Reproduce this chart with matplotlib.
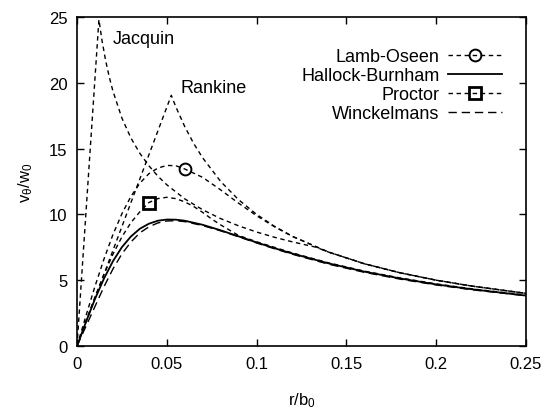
import matplotlib
matplotlib.use("Agg")
import matplotlib.pyplot as plt

plt.rcParams['font.family'] = ['Liberation Sans', 'DejaVu Sans']
plt.rcParams['mathtext.fontset'] = 'custom'
plt.rcParams['mathtext.rm'] = 'Liberation Sans'
plt.rcParams['mathtext.it'] = 'Liberation Sans'

# ---- data ----
r_lo = [0, 0.005, 0.01, 0.015, 0.02, 0.025, 0.03, 0.035, 0.04, 0.045, 0.05, 0.055,
        0.06, 0.07, 0.08, 0.09, 0.10, 0.11, 0.12, 0.14, 0.16, 0.18, 0.20, 0.22, 0.25]
v_lo = [0, 2.30, 4.53, 6.60, 8.46, 10.05, 11.36, 12.37, 13.09, 13.52, 13.72, 13.70,
        13.45, 12.81, 11.86, 10.85, 9.90, 9.06, 8.32, 7.14, 6.25, 5.56, 5.00, 4.55, 4.00]

r_hb = [0, 0.005, 0.01, 0.015, 0.02, 0.025, 0.03, 0.035, 0.04, 0.045, 0.05, 0.055,
        0.06, 0.07, 0.08, 0.09, 0.10, 0.11, 0.12, 0.14, 0.16, 0.18, 0.20, 0.22, 0.25]
v_hb = [0, 1.83, 3.57, 5.12, 6.44, 7.51, 8.32, 8.91, 9.29, 9.52, 9.61, 9.60,
        9.52, 9.21, 8.79, 8.33, 7.87, 7.43, 7.02, 6.28, 5.65, 5.13, 4.68, 4.31, 3.83]

r_pr = [0, 0.005, 0.01, 0.015, 0.02, 0.025, 0.03, 0.035, 0.04, 0.045, 0.05, 0.055,
        0.06, 0.065, 0.07, 0.075, 0.08, 0.09, 0.10, 0.12, 0.14, 0.16, 0.18, 0.20, 0.22, 0.25]
v_pr = [0, 1.90, 3.73, 5.44, 6.97, 8.29, 9.37, 10.20, 10.90, 11.20, 11.30, 11.20,
        10.95, 10.60, 10.15, 9.65, 9.20, 8.40, 7.92, 7.07, 6.32, 5.69, 5.17, 4.72, 4.34, 3.87]

r_wi = [0, 0.005, 0.01, 0.015, 0.02, 0.025, 0.03, 0.035, 0.04, 0.045, 0.05, 0.055,
        0.06, 0.07, 0.08, 0.09, 0.10, 0.11, 0.12, 0.14, 0.16, 0.18, 0.20, 0.22, 0.25]
v_wi = [0, 1.50, 3.00, 4.50, 5.85, 7.00, 7.90, 8.60, 9.05, 9.35, 9.50, 9.52,
        9.45, 9.15, 8.75, 8.30, 7.83, 7.39, 6.97, 6.22, 5.60, 5.08, 4.64, 4.27, 3.82]

r_ra = [0, 0.0525, 0.055, 0.06, 0.065, 0.07, 0.08, 0.09, 0.10, 0.11, 0.12, 0.14,
        0.16, 0.18, 0.20, 0.22, 0.25]
v_ra = [0, 19.05, 18.18, 16.67, 15.38, 14.29, 12.50, 11.11, 10.00, 9.09, 8.33, 7.14,
        6.25, 5.56, 5.00, 4.55, 4.00]

r_ja = [0, 0.0122, 0.014, 0.016, 0.018, 0.02, 0.025, 0.03, 0.035, 0.04, 0.045, 0.05,
        0.06, 0.07, 0.08, 0.09, 0.10, 0.11, 0.12, 0.133, 0.14, 0.16, 0.18, 0.20, 0.22, 0.25]
v_ja = [0, 24.80, 23.15, 21.65, 20.42, 19.37, 17.32, 15.81, 14.64, 13.70, 12.91, 12.25,
        11.18, 10.35, 9.68, 9.13, 8.66, 8.26, 7.91, 7.51, 7.14, 6.25, 5.56, 5.00, 4.55, 4.00]

labels = ["Lamb-Oseen", "Hallock-Burnham", "Proctor", "Winckelmans"]
x_ticks = [0, 0.05, 0.1, 0.15, 0.2, 0.25]
x_ticklabels = ["0", "0.05", "0.1", "0.15", "0.2", "0.25"]
y_ticks = [0, 5, 10, 15, 20, 25]

# ---- figure ----
fig = plt.figure(figsize=(5.44, 4.14), dpi=100)
ax = fig.add_axes([77/544, 67/414, 449/544, 329/414])

lw = 1.0
short = (3.2, 2.6)
longd = (6.0, 3.5)

ax.plot(r_lo, v_lo, color='black', lw=lw, dashes=short, marker='o', markevery=[12],
        ms=8.5, mfc='none', mec='black', mew=1.4, label=labels[0])
ax.plot(r_hb, v_hb, color='black', lw=1.3, ls='-', label=labels[1])
ax.plot(r_pr, v_pr, color='black', lw=lw, dashes=short, marker='s', markevery=[8],
        ms=8, mfc='none', mec='black', mew=2.0, label=labels[2])
ax.plot(r_wi, v_wi, color='black', lw=lw, dashes=longd, label=labels[3])
ax.plot(r_ra, v_ra, color='black', lw=lw, dashes=short)
ax.plot(r_ja, v_ja, color='black', lw=lw, dashes=short)

ax.text(0.0200, 23.05, "Jacquin", fontsize=13, ha='left', va='baseline')
ax.text(0.0574, 19.3, "Rankine", fontsize=13, ha='left', va='baseline')

ax.set_xlim(0, 0.25)
ax.set_ylim(0, 25)
ax.set_xticks(x_ticks)
ax.set_xticklabels(x_ticklabels)
ax.set_yticks(y_ticks)
ax.tick_params(direction='in', top=True, right=True, length=5, width=1.0,
               labelsize=12, pad=7)
for s in ax.spines.values():
    s.set_linewidth(1.2)

ax.set_xlabel(r"r/b$_0$", fontsize=12, labelpad=14)
ax.set_ylabel(r"v$_\theta$/w$_0$", fontsize=12, labelpad=10)

leg = ax.legend(loc='upper right', bbox_to_anchor=(0.946, 0.906), frameon=False,
                markerfirst=False, fontsize=13, handlelength=3.0, handletextpad=0.45,
                labelspacing=0.12, borderpad=0, borderaxespad=0)
try:
    for col in leg._legend_handle_box.get_children():
        col.align = "right"
except Exception:
    pass

fig.savefig("out.png", dpi=100)
